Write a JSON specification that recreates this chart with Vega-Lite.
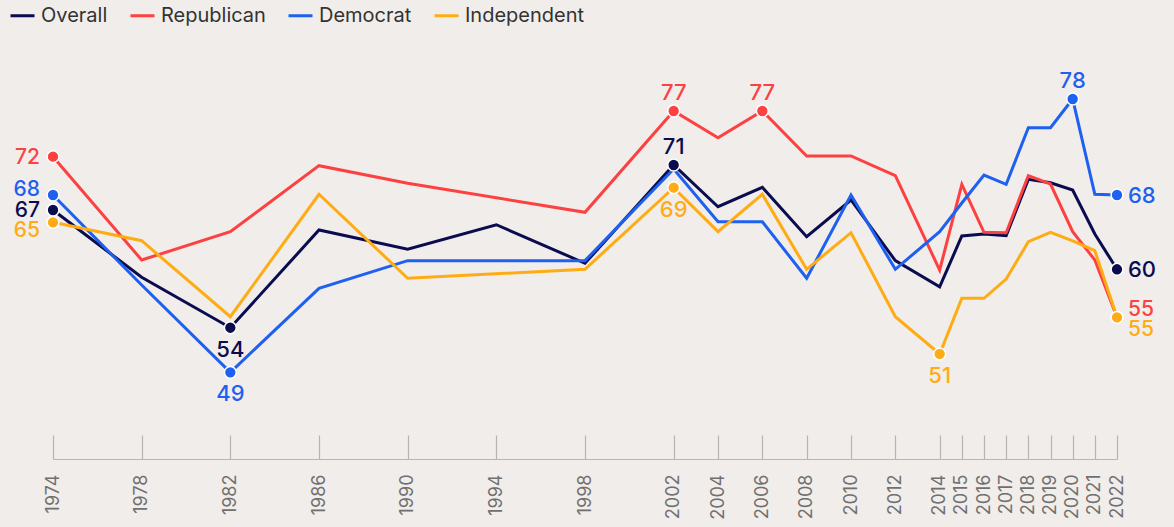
{
  "$schema": "https://vega.github.io/schema/vega-lite/v6.json",
  "width": 1064,
  "height": 422,
  "autosize": {"type": "none"},
  "padding": {"left": 53, "right": 57, "top": 37, "bottom": 68},
  "background": "#f0edea",
  "config": {"view": {"stroke": null}, "font": "Inter"},
  "data": {"values": [
    {"series": "Overall", "year": 1974, "value": 66.55, "label": "67"},
    {"series": "Overall", "year": 1978, "value": 59.38},
    {"series": "Overall", "year": 1982, "value": 54.0, "label": "54"},
    {"series": "Overall", "year": 1986, "value": 64.42},
    {"series": "Overall", "year": 1990, "value": 62.36},
    {"series": "Overall", "year": 1994, "value": 64.98},
    {"series": "Overall", "year": 1998, "value": 60.87},
    {"series": "Overall", "year": 2002, "value": 71.35, "label": "71"},
    {"series": "Overall", "year": 2004, "value": 66.9},
    {"series": "Overall", "year": 2006, "value": 68.97},
    {"series": "Overall", "year": 2008, "value": 63.7},
    {"series": "Overall", "year": 2010, "value": 67.62},
    {"series": "Overall", "year": 2012, "value": 61.15},
    {"series": "Overall", "year": 2014, "value": 58.37},
    {"series": "Overall", "year": 2015, "value": 63.78},
    {"series": "Overall", "year": 2016, "value": 63.99},
    {"series": "Overall", "year": 2017, "value": 63.81},
    {"series": "Overall", "year": 2018, "value": 69.82},
    {"series": "Overall", "year": 2019, "value": 69.46},
    {"series": "Overall", "year": 2020, "value": 68.68},
    {"series": "Overall", "year": 2021, "value": 63.99},
    {"series": "Overall", "year": 2022, "value": 60.23, "label": "60"},
    {"series": "Republican", "year": 1974, "value": 72.24, "label": "72"},
    {"series": "Republican", "year": 1978, "value": 61.22},
    {"series": "Republican", "year": 1982, "value": 64.24},
    {"series": "Republican", "year": 1986, "value": 71.28},
    {"series": "Republican", "year": 1990, "value": 69.4},
    {"series": "Republican", "year": 1998, "value": 66.31},
    {"series": "Republican", "year": 2002, "value": 77.11, "label": "77"},
    {"series": "Republican", "year": 2004, "value": 74.26},
    {"series": "Republican", "year": 2006, "value": 77.11, "label": "77"},
    {"series": "Republican", "year": 2008, "value": 72.31},
    {"series": "Republican", "year": 2010, "value": 72.31},
    {"series": "Republican", "year": 2012, "value": 70.21},
    {"series": "Republican", "year": 2014, "value": 60.15},
    {"series": "Republican", "year": 2015, "value": 69.29},
    {"series": "Republican", "year": 2016, "value": 64.17},
    {"series": "Republican", "year": 2017, "value": 64.13},
    {"series": "Republican", "year": 2018, "value": 70.21},
    {"series": "Republican", "year": 2019, "value": 69.32},
    {"series": "Republican", "year": 2020, "value": 64.24},
    {"series": "Republican", "year": 2021, "value": 61.22},
    {"series": "Republican", "year": 2022, "value": 55.11, "label": "55"},
    {"series": "Democrat", "year": 1974, "value": 68.15, "label": "68"},
    {"series": "Democrat", "year": 1978, "value": 58.55},
    {"series": "Democrat", "year": 1982, "value": 49.24, "label": "49"},
    {"series": "Democrat", "year": 1986, "value": 58.2},
    {"series": "Democrat", "year": 1990, "value": 61.15},
    {"series": "Democrat", "year": 1998, "value": 61.15},
    {"series": "Democrat", "year": 2002, "value": 70.92},
    {"series": "Democrat", "year": 2004, "value": 65.3},
    {"series": "Democrat", "year": 2006, "value": 65.3},
    {"series": "Democrat", "year": 2008, "value": 59.27},
    {"series": "Democrat", "year": 2010, "value": 68.15},
    {"series": "Democrat", "year": 2012, "value": 60.23},
    {"series": "Democrat", "year": 2014, "value": 64.24},
    {"series": "Democrat", "year": 2015, "value": 67.3},
    {"series": "Democrat", "year": 2016, "value": 70.28},
    {"series": "Democrat", "year": 2017, "value": 69.29},
    {"series": "Democrat", "year": 2018, "value": 75.33},
    {"series": "Democrat", "year": 2019, "value": 75.33},
    {"series": "Democrat", "year": 2020, "value": 78.39, "label": "78"},
    {"series": "Democrat", "year": 2021, "value": 68.23},
    {"series": "Democrat", "year": 2022, "value": 68.15, "label": "68"},
    {"series": "Independent", "year": 1974, "value": 65.24, "label": "65"},
    {"series": "Independent", "year": 1978, "value": 63.28},
    {"series": "Independent", "year": 1982, "value": 55.17},
    {"series": "Independent", "year": 1986, "value": 68.23},
    {"series": "Independent", "year": 1990, "value": 59.27},
    {"series": "Independent", "year": 1998, "value": 60.23},
    {"series": "Independent", "year": 2002, "value": 68.93, "label": "69"},
    {"series": "Independent", "year": 2004, "value": 64.24},
    {"series": "Independent", "year": 2006, "value": 68.23},
    {"series": "Independent", "year": 2008, "value": 60.23},
    {"series": "Independent", "year": 2010, "value": 64.13},
    {"series": "Independent", "year": 2012, "value": 55.17},
    {"series": "Independent", "year": 2014, "value": 51.2, "label": "51"},
    {"series": "Independent", "year": 2015, "value": 57.14},
    {"series": "Independent", "year": 2016, "value": 57.14},
    {"series": "Independent", "year": 2017, "value": 59.19},
    {"series": "Independent", "year": 2018, "value": 63.17},
    {"series": "Independent", "year": 2019, "value": 64.17},
    {"series": "Independent", "year": 2020, "value": 63.25},
    {"series": "Independent", "year": 2021, "value": 62.21},
    {"series": "Independent", "year": 2022, "value": 55.11, "label": "55"}
  ]},
  "encoding": {
    "x": {
      "field": "year", "type": "quantitative",
      "scale": {"domain": [1974, 2022], "nice": false, "zero": false},
      "axis": {
        "title": null, "grid": false,
        "values": [1974, 1978, 1982, 1986, 1990, 1994, 1998, 2002, 2004, 2006, 2008, 2010, 2012, 2014, 2015, 2016, 2017, 2018, 2019, 2020, 2021, 2022],
        "format": "d", "labelAngle": -90, "tickSize": -24, "labelPadding": 39,
        "domainColor": "#b5b5b5", "tickColor": "#b5b5b5", "domainWidth": 1.2, "tickWidth": 1.2,
        "labelColor": "#707070", "labelFontSize": 18, "labelFont": "Inter",
        "labelFlush": false, "labelOverlap": false, "labelBound": false
      }
    },
    "y": {
      "field": "value", "type": "quantitative",
      "scale": {"domain": [40, 85], "nice": false, "zero": false},
      "axis": null
    },
    "color": {
      "field": "series", "type": "nominal",
      "scale": {
        "domain": ["Overall", "Republican", "Democrat", "Independent"],
        "range": ["#0b0b50", "#fd4141", "#1e60ef", "#ffac14"]
      },
      "legend": null
    }
  },
  "layer": [
    {
      "mark": {"type": "line", "strokeWidth": 3},
      "encoding": {
        "color": {
          "field": "series", "type": "nominal",
          "legend": {
            "title": null, "orient": "none", "legendX": -44, "legendY": -35,
            "direction": "horizontal", "symbolType": "stroke", "symbolSize": 576,
            "symbolStrokeWidth": 3, "labelFontSize": 20, "labelFont": "Inter",
            "labelColor": "#333333", "labelOffset": 5, "columnPadding": 16, "padding": 0
          }
        }
      }
    },
    {
      "transform": [{"filter": "isValid(datum.label)"}],
      "mark": {"type": "point", "filled": true, "size": 140, "stroke": "#ffffff", "strokeWidth": 1.5, "opacity": 1, "strokeOpacity": 1}
    },
    {
      "transform": [{"filter": "datum.year == 1974 && (datum.series == 'Republican' || datum.series == 'Overall')"}],
      "mark": {"type": "text", "align": "right", "baseline": "middle", "dx": -13, "dy": 1, "fontSize": 21, "fontWeight": 500},
      "encoding": {"text": {"field": "label"}}
    },
    {
      "transform": [{"filter": "datum.year == 1974 && datum.series == 'Democrat'"}],
      "mark": {"type": "text", "align": "right", "baseline": "middle", "dx": -13, "dy": -5, "fontSize": 21, "fontWeight": 500},
      "encoding": {"text": {"field": "label"}}
    },
    {
      "transform": [{"filter": "datum.year == 1974 && datum.series == 'Independent'"}],
      "mark": {"type": "text", "align": "right", "baseline": "middle", "dx": -13, "dy": 9, "fontSize": 21, "fontWeight": 500},
      "encoding": {"text": {"field": "label"}}
    },
    {
      "transform": [{"filter": "(datum.year == 2002 && (datum.series == 'Republican' || datum.series == 'Overall')) || (datum.year == 2006 && datum.series == 'Republican') || (datum.year == 2020 && datum.series == 'Democrat')"}],
      "mark": {"type": "text", "align": "center", "baseline": "middle", "dy": -18, "fontSize": 22, "fontWeight": 500},
      "encoding": {"text": {"field": "label"}}
    },
    {
      "transform": [{"filter": "(datum.year == 1982 && (datum.series == 'Overall' || datum.series == 'Democrat')) || (datum.year == 2002 && datum.series == 'Independent') || (datum.year == 2014 && datum.series == 'Independent')"}],
      "mark": {"type": "text", "align": "center", "baseline": "middle", "dy": 22, "fontSize": 22, "fontWeight": 500},
      "encoding": {"text": {"field": "label"}}
    },
    {
      "transform": [{"filter": "datum.year == 2022 && (datum.series == 'Democrat' || datum.series == 'Overall')"}],
      "mark": {"type": "text", "align": "left", "baseline": "middle", "dx": 11, "dy": 1, "fontSize": 22, "fontWeight": 500},
      "encoding": {"text": {"field": "label"}}
    },
    {
      "transform": [{"filter": "datum.year == 2022 && datum.series == 'Republican'"}],
      "mark": {"type": "text", "align": "left", "baseline": "middle", "dx": 11, "dy": -7, "fontSize": 21, "fontWeight": 500},
      "encoding": {"text": {"field": "label"}}
    },
    {
      "transform": [{"filter": "datum.year == 2022 && datum.series == 'Independent'"}],
      "mark": {"type": "text", "align": "left", "baseline": "middle", "dx": 11, "dy": 13, "fontSize": 21, "fontWeight": 500},
      "encoding": {"text": {"field": "label"}}
    }
  ]
}
